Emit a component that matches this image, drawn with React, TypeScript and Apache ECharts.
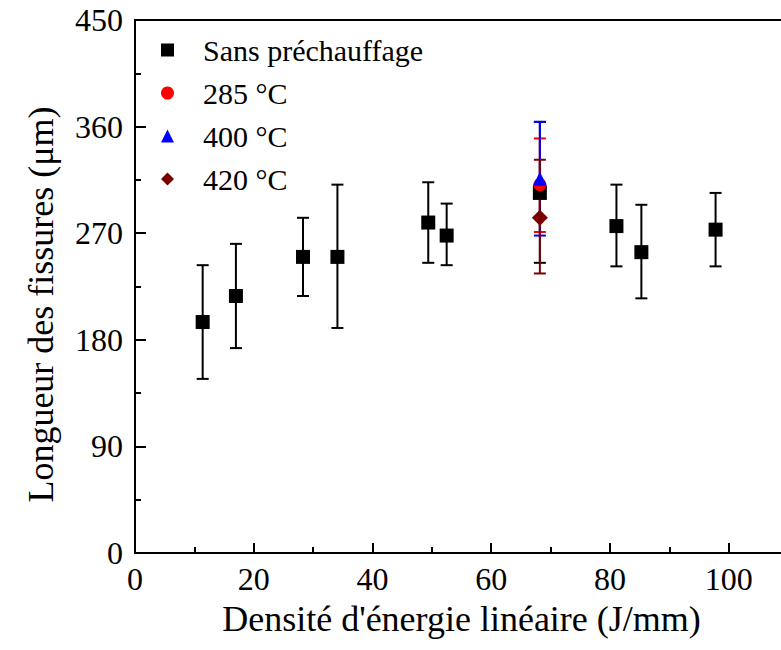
import React, { useEffect, useRef } from "react";
import * as echarts from "echarts";

// Sans préchauffage
const xSans = [11.4, 17.0, 28.3, 34.1, 49.4, 52.5, 68.2, 81.1, 85.3, 97.8];
const ySans = [195, 217, 250, 250, 279, 268, 304, 276, 254, 273];
const lowSans = [147, 173, 217, 190, 245, 243, 245, 242, 215, 242];
const highSans = [243, 261, 283, 311, 313, 295, 364, 311, 294, 304];

// 285 °C
const x285 = [68.2];
const y285 = [311];
const low285 = [271];
const high285 = [350];

// 400 °C
const x400 = [68.2];
const y400 = [316];
const low400 = [268];
const high400 = [364];

// 420 °C
const x420 = [68.2];
const y420 = [283];
const low420 = [236];
const high420 = [332];

const seriesNames = ["Sans préchauffage", "285 °C", "400 °C", "420 °C"];
const seriesSymbols = ["rect", "circle", "triangle", "diamond"];
const seriesColors = ["#000000", "#ff0000", "#0000ff", "#7a0000"];
const xTicks = [0, 20, 40, 60, 80, 100];
const yTicks = [0, 90, 180, 270, 360, 450];

const FONT = "'Liberation Serif', 'Times New Roman', serif";

function zip(xs: number[], ys: number[]) {
  return xs.map((x, i) => [x, ys[i]]);
}
function zipErr(xs: number[], lo: number[], hi: number[]) {
  return xs.map((x, i) => [x, lo[i], hi[i]]);
}

function errorSeries(name: string, data: number[][], color: string, width: number) {
  return {
    type: "custom",
    name: name + " (erreur)",
    data,
    z: 2,
    silent: true,
    itemStyle: { color },
    renderItem: (params: any, api: any) => {
      const x = api.value(0);
      const lo = api.coord([x, api.value(1)]);
      const hi = api.coord([x, api.value(2)]);
      const cap = 6;
      const style = { stroke: color, lineWidth: width };
      return {
        type: "group",
        children: [
          { type: "line", shape: { x1: lo[0], y1: lo[1], x2: hi[0], y2: hi[1] }, style },
          { type: "line", shape: { x1: lo[0] - cap, y1: lo[1], x2: lo[0] + cap, y2: lo[1] }, style },
          { type: "line", shape: { x1: hi[0] - cap, y1: hi[1], x2: hi[0] + cap, y2: hi[1] }, style },
        ],
      };
    },
  };
}

export default function App() {
  const ref = useRef<HTMLDivElement>(null);
  useEffect(() => {
    if (!ref.current) return;
    const chart = echarts.init(ref.current, null, { renderer: "svg" });
    const colors = seriesColors;
    chart.setOption({
      animation: false,
      backgroundColor: "#ffffff",
      grid: {
        left: 135,
        top: 20,
        width: 653,
        height: 533,
        show: true,
        borderColor: "#000",
        borderWidth: 2,
        containLabel: false,
        outerBoundsMode: "none",
      },
      legend: {
        orient: "vertical",
        left: 156,
        top: 30,
        itemGap: 13,
        itemWidth: 13,
        itemHeight: 13,
        data: seriesNames.map((n, i) => ({
          name: n,
          icon: seriesSymbols[i],
          itemStyle: { color: colors[i], opacity: 1 },
        })),
        textStyle: { fontFamily: FONT, fontSize: 30, color: "#000", padding: [0, 0, 0, 24] },
      },
      xAxis: {
        type: "value",
        min: 0,
        max: 110,
        interval: 20,
        name: "Densité d'énergie linéaire (J/mm)",
        nameLocation: "middle",
        nameGap: 48,
        nameTextStyle: { fontFamily: FONT, fontSize: 36, color: "#000" },
        axisLine: { lineStyle: { color: "#000", width: 2 } },
        axisTick: { inside: true, length: 10, lineStyle: { color: "#000", width: 2 } },
        minorTick: { show: true, splitNumber: 2, length: 6, lineStyle: { color: "#000", width: 2 } },
        splitLine: { show: false },
        axisLabel: {
          fontFamily: FONT,
          fontSize: 32,
          color: "#000",
          margin: 10,
          formatter: (v: number) => (xTicks.includes(v) ? String(v) : ""),
        },
      },
      yAxis: {
        type: "value",
        min: 0,
        max: 450,
        interval: 90,
        name: "Longueur des fissures (μm)",
        nameLocation: "middle",
        nameGap: 76,
        nameTextStyle: { fontFamily: FONT, fontSize: 36, color: "#000", padding: [0, 36, 0, 0] },
        axisLine: { show: true, lineStyle: { color: "#000", width: 2 } },
        axisTick: { show: true, inside: true, length: 11, lineStyle: { color: "#000", width: 2 } },
        minorTick: { show: true, splitNumber: 2, length: 6, lineStyle: { color: "#000", width: 2 } },
        splitLine: { show: false },
        axisLabel: {
          fontFamily: FONT,
          fontSize: 32,
          color: "#000",
          margin: 12,
          formatter: (v: number) => (yTicks.includes(v) ? String(v) : ""),
        },
      },
      series: [
        errorSeries(seriesNames[0], zipErr(xSans, lowSans, highSans), colors[0], 2),
        errorSeries(seriesNames[1], zipErr(x285, low285, high285), colors[1], 2),
        errorSeries(seriesNames[2], zipErr(x400, low400, high400), colors[2], 2),
        errorSeries(seriesNames[3], zipErr(x420, low420, high420), colors[3], 2),
        {
          type: "scatter",
          name: seriesNames[0],
          data: zip(xSans, ySans),
          symbol: "rect",
          symbolSize: 14,
          itemStyle: { color: colors[0], opacity: 1 },
          z: 3,
        },
        {
          type: "scatter",
          name: seriesNames[1],
          data: zip(x285, y285),
          symbol: "circle",
          symbolSize: 13,
          itemStyle: { color: colors[1], opacity: 1 },
          z: 4,
        },
        {
          type: "scatter",
          name: seriesNames[2],
          data: zip(x400, y400),
          symbol: "triangle",
          symbolSize: 14,
          itemStyle: { color: colors[2], opacity: 1 },
          z: 5,
        },
        {
          type: "scatter",
          name: seriesNames[3],
          data: zip(x420, y420),
          symbol: "diamond",
          symbolSize: 16,
          itemStyle: { color: colors[3], opacity: 1 },
          z: 6,
        },
      ],
    });
    return () => chart.dispose();
  }, []);
  return <div ref={ref} style={{ width: 781, height: 650, position: "absolute", left: 0, top: 0 }} />;
}
